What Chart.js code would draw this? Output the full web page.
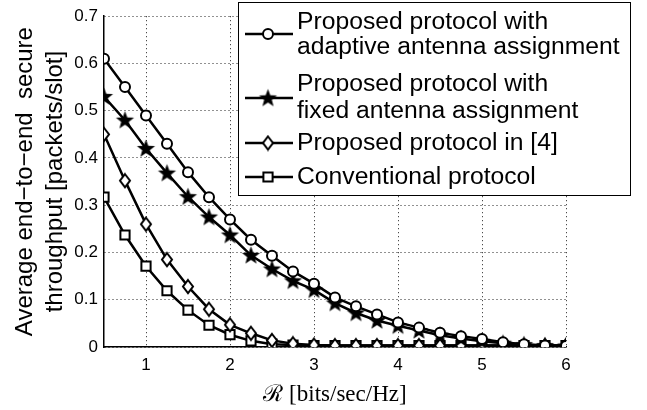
<!DOCTYPE html>
<html>
<head>
<meta charset="utf-8">
<script src="https://cdn.jsdelivr.net/npm/chart.js@4.4.1/dist/chart.umd.min.js"></script>
<style>
  html, body { margin: 0; padding: 0; background: #fff; }
  canvas { display: block; }
</style>
</head>
<body>
<canvas id="chart" width="647" height="410"></canvas>
<script>
// Data
const rate = [0.5, 0.75, 1.0, 1.25, 1.5, 1.75, 2.0, 2.25, 2.5, 2.75, 3.0, 3.25,
              3.5, 3.75, 4.0, 4.25, 4.5, 4.75, 5.0, 5.25, 5.5, 5.75, 6.0];
const adaptive = [0.61, 0.55, 0.49, 0.43, 0.37, 0.317, 0.27, 0.227, 0.193, 0.16, 0.134, 0.105,
                  0.086, 0.069, 0.052, 0.041, 0.03, 0.023, 0.017, 0.01, 0.006, 0.003, 0.002];
const fixedAssign = [0.53, 0.48, 0.42, 0.368, 0.318, 0.275, 0.237, 0.194, 0.165, 0.14, 0.121, 0.093,
                     0.072, 0.056, 0.045, 0.035, 0.025, 0.018, 0.012, 0.008, 0.005, 0.003, 0.002];
const protocol4 = [0.45, 0.352, 0.26, 0.185, 0.128, 0.08, 0.047, 0.029, 0.014, 0.007, 0.004, 0.003,
                   0.003, 0.003, 0.003, 0.003, 0.003, 0.003, 0.003, 0.003, 0.003, 0.003, 0.003];
const conventional = [0.317, 0.237, 0.171, 0.119, 0.078, 0.046, 0.026, 0.013, 0.006, 0.004, 0.003, 0.003,
                      0.003, 0.003, 0.003, 0.003, 0.003, 0.003, 0.003, 0.003, 0.003, 0.003, 0.003];

const xTicks = [1, 2, 3, 4, 5, 6];
const yTicks = [0, 0.1, 0.2, 0.3, 0.4, 0.5, 0.6, 0.7];

const legendLines = [
    ['Proposed protocol with', 'adaptive antenna assignment'],
    ['Proposed protocol with', 'fixed antenna assignment'],
    ['Proposed protocol in [4]'],
    ['Conventional protocol']
];

const FONT = '"Liberation Sans", Arial, Helvetica, sans-serif';

// filled five point star used as a marker
function makeStar(outer, inner) {
    const c = document.createElement('canvas');
    const s = Math.ceil(outer * 2 + 2);
    c.width = s; c.height = s;
    const g = c.getContext('2d');
    g.fillStyle = '#000';
    g.beginPath();
    for (let i = 0; i < 10; i++) {
        const r = i % 2 === 0 ? outer : inner;
        const a = -Math.PI / 2 + i * Math.PI / 5;
        const px = s / 2 + r * Math.cos(a);
        const py = s / 2 + r * Math.sin(a) + 0.5;
        if (i === 0) g.moveTo(px, py); else g.lineTo(px, py);
    }
    g.closePath();
    g.fill();
    return c;
}

// narrow open diamond like the matlab marker
function makeDiamond(w, h) {
    const c = document.createElement('canvas');
    c.width = w + 4; c.height = h + 4;
    const g = c.getContext('2d');
    const cx = c.width / 2, cy = c.height / 2;
    g.fillStyle = '#fff';
    g.strokeStyle = '#000';
    g.lineWidth = 2;
    g.beginPath();
    g.moveTo(cx, cy - h / 2);
    g.lineTo(cx + w / 2, cy);
    g.lineTo(cx, cy + h / 2);
    g.lineTo(cx - w / 2, cy);
    g.closePath();
    g.fill();
    g.stroke();
    return c;
}
const starImg = makeStar(9.5, 4);
const diamondImg = makeDiamond(10, 13);

function series(values, style, radius) {
    return {
        data: rate.map((x, i) => ({ x: x, y: values[i] })),
        borderColor: '#000',
        borderWidth: 2.5,
        pointStyle: style,
        pointRadius: radius,
        pointBorderWidth: 2,
        pointBorderColor: '#000',
        pointBackgroundColor: '#fff',
        tension: 0
    };
}

const datasets = [
    series(adaptive, 'circle', 5),
    series(fixedAssign, starImg, 9),
    series(protocol4, diamondImg, 7),
    series(conventional, 'rect', 6.5)
];

// Legend drawn in a box over the top right corner
const boxLegend = {
    id: 'boxLegend',
    afterDraw(chart) {
        const ctx = chart.ctx;
        ctx.save();
        ctx.fillStyle = '#fff';
        ctx.strokeStyle = '#000';
        ctx.lineWidth = 1;
        ctx.fillRect(238.5, 2.5, 392, 193);
        ctx.strokeRect(238.5, 2.5, 392, 193);

        const rows = [
            { marker: 34, text: [22, 47] },
            { marker: 98, text: [84, 111] },
            { marker: 143, text: [143] },
            { marker: 177, text: [177] }
        ];
        ctx.font = '24.7px ' + FONT;
        ctx.textBaseline = 'middle';
        ctx.textAlign = 'left';
        rows.forEach((row, i) => {
            const ds = chart.data.datasets[i];
            ctx.strokeStyle = '#000';
            ctx.lineWidth = 2.5;
            ctx.beginPath();
            ctx.moveTo(245, row.marker);
            ctx.lineTo(293, row.marker);
            ctx.stroke();
            ctx.fillStyle = '#fff';
            ctx.lineWidth = 2;
            Chart.helpers.drawPoint(ctx, {
                pointStyle: ds.pointStyle,
                radius: ds.pointRadius,
                borderWidth: 2,
                rotation: 0
            }, 268, row.marker);
            ctx.fillStyle = '#000';
            legendLines[i].forEach((t, j) => ctx.fillText(t, 297, row.text[j]));
        });
        ctx.restore();
    }
};

const ctx = document.getElementById('chart').getContext('2d');
new Chart(ctx, {
    type: 'line',
    data: { datasets: datasets },
    options: {
        responsive: false,
        animation: false,
        layout: { padding: { left: 0, right: 81, top: 7, bottom: 0 } },
        plugins: {
            legend: { display: false },
            tooltip: { enabled: false }
        },
        scales: {
            x: {
                type: 'linear',
                min: 0.5,
                max: 6,
                afterBuildTicks: (scale) => { scale.ticks = xTicks.map(v => ({ value: v })); },
                afterFit: (scale) => { scale.height = 63; },
                grid: { color: '#222', lineWidth: 1, drawTicks: false },
                border: { color: '#000', width: 1.5, dash: [1, 3] },
                ticks: {
                    color: '#000',
                    padding: 8,
                    maxRotation: 0,
                    font: { family: FONT, size: 17 },
                    callback: (v) => String(v)
                },
                title: {
                    display: true,
                    text: 'ℛ [bits/sec/Hz]',
                    color: '#000',
                    font: { family: '"Liberation Serif", "DejaVu Serif", serif', size: 23 },
                    padding: { top: 0, bottom: 1 }
                }
            },
            y: {
                min: 0,
                max: 0.7,
                afterBuildTicks: (scale) => { scale.ticks = yTicks.map(v => ({ value: v })); },
                afterFit: (scale) => { scale.width = 104; },
                grid: { color: '#222', lineWidth: 1, drawTicks: false },
                border: { color: '#000', width: 1.5, dash: [1, 3] },
                ticks: {
                    color: '#000',
                    padding: 6,
                    font: { family: FONT, size: 17 },
                    callback: (v) => String(Math.round(v * 10) / 10)
                },
                title: {
                    display: true,
                    text: ['Average end\u2212to\u2212end  secure', 'throughput [packets/slot]'],
                    color: '#000',
                    font: { family: FONT, size: 24, lineHeight: 1.25 },
                    padding: { top: 10, bottom: 0 }
                }
            }
        }
    },
    plugins: [boxLegend]
});
</script>
</body>
</html>
